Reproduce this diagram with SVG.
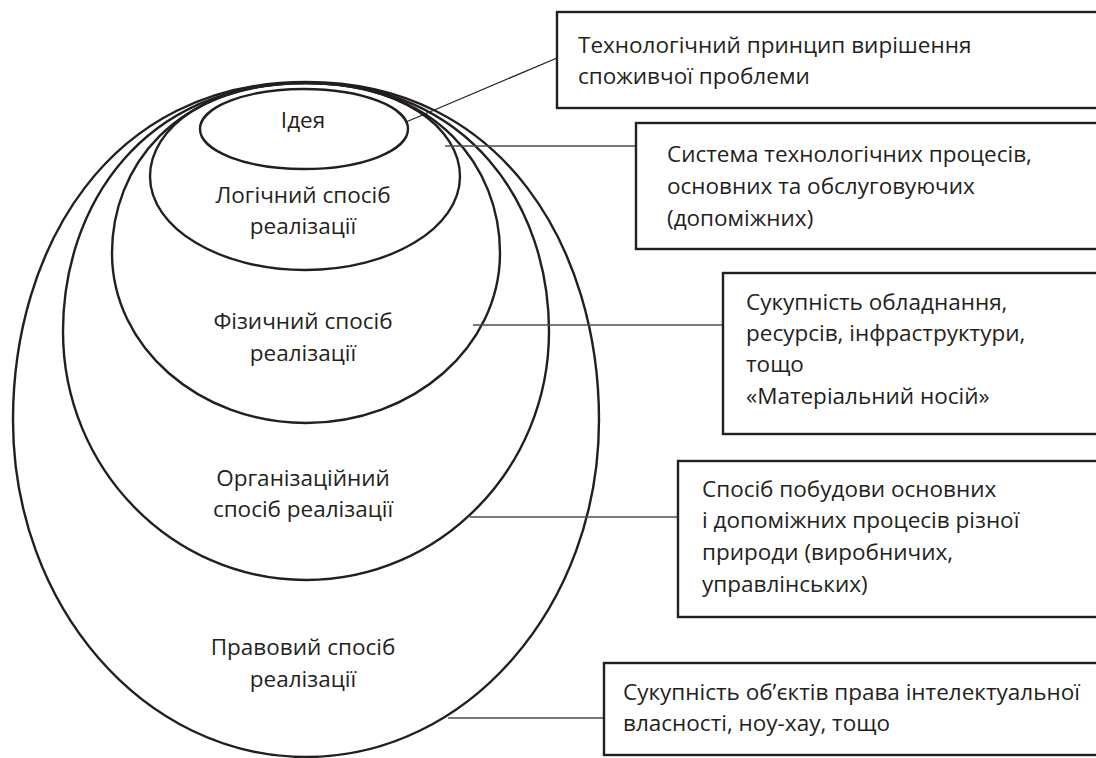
<svg xmlns="http://www.w3.org/2000/svg" width="1096" height="758" viewBox="0 0 1096 758">
<style>
.bg{fill:#ffffff}
.ell{fill:none;stroke:#231f20;stroke-width:2.4}
.box{fill:#ffffff;stroke:#231f20;stroke-width:2.4}
.con{fill:none;stroke:#4d4d4f;stroke-width:1.6}
.con1{fill:none;stroke:#231f20;stroke-width:1.2}
text{font-family:"Open Sans","Noto Sans","Liberation Sans",sans-serif;font-size:22.5px;fill:#231f20}
.c{text-anchor:middle}
</style>
<rect class="bg" x="0" y="0" width="1096" height="758"/>
<g id="legal">
<path class="ell" d="M306,82 C505,82 599,251 599,420 C599,606 468,757 306,757 C144,757 13,606 13,420 C13,251 107,82 306,82 Z"/>
<text class="c" x="303" y="655">Правовий спосіб</text>
<text class="c" x="303" y="687">реалізації</text>
</g>
<g id="organizational">
<path class="ell" d="M306,83 C471,83 549,207.5 549,331.5 C549,468.5 440,580 306,580 C172,580 63,468.5 63,331.5 C63,207.5 141,83 306,83 Z"/>
<text class="c" x="303" y="486">Організаційний</text>
<text class="c" x="303" y="517">спосіб реалізації</text>
</g>
<g id="physical">
<path class="ell" d="M306,83 C438,83 500,168 500,253 C500,347 413,423 306,423 C199,423 112,347 112,253 C112,168 174,83 306,83 Z"/>
<text class="c" x="303" y="329">Фізичний спосіб</text>
<text class="c" x="303" y="361">реалізації</text>
</g>
<g id="logical">
<path class="ell" d="M305,83 C401,83 460,128 460,176.5 C460,228 390.4,270 305,270 C219.6,270 150,228 150,176.5 C150,128 209,83 305,83 Z"/>
<text class="c" x="303" y="203">Логічний спосіб</text>
<text class="c" x="303" y="234">реалізації</text>
</g>
<g id="idea">
<ellipse class="ell" cx="304" cy="129" rx="104" ry="40"/>
<text class="c" x="303" y="128">Ідея</text>
</g>
<g id="connectors">
<line class="con1" x1="406" y1="122" x2="557" y2="58"/>
<line class="con" x1="445" y1="146" x2="636" y2="146"/>
<line class="con" x1="473" y1="325" x2="723" y2="325"/>
<line class="con" x1="470" y1="517" x2="678" y2="517"/>
<line class="con" x1="448" y1="718" x2="604" y2="718"/>
</g>
<g id="box1">
<rect class="box" x="557" y="12" width="560" height="96"/>
<text x="578" y="53">Технологічний принцип вирішення</text>
<text x="578" y="84">споживчої проблеми</text>
</g>
<g id="box2">
<rect class="box" x="636" y="123" width="480" height="126"/>
<text x="667" y="162">Система технологічних процесів,</text>
<text x="667" y="194">основних та обслуговуючих</text>
<text x="667" y="226">(допоміжних)</text>
</g>
<g id="box3">
<rect class="box" x="723" y="273" width="400" height="161"/>
<text x="746" y="310">Сукупність обладнання,</text>
<text x="746" y="341">ресурсів, інфраструктури,</text>
<text x="746" y="372">тощо</text>
<text x="746" y="404">«Матеріальний носій»</text>
</g>
<g id="box4">
<rect class="box" x="678" y="461" width="440" height="156"/>
<text x="702" y="497">Спосіб побудови основних</text>
<text x="702" y="528">і допоміжних процесів різної</text>
<text x="702" y="560">природи (виробничих,</text>
<text x="702" y="592">управлінських)</text>
</g>
<g id="box5">
<rect class="box" x="604" y="663" width="520" height="92"/>
<text x="623" y="700">Сукупність об’єктів права інтелектуальної</text>
<text x="623" y="731">власності, ноу-хау, тощо</text>
</g>
</svg>
